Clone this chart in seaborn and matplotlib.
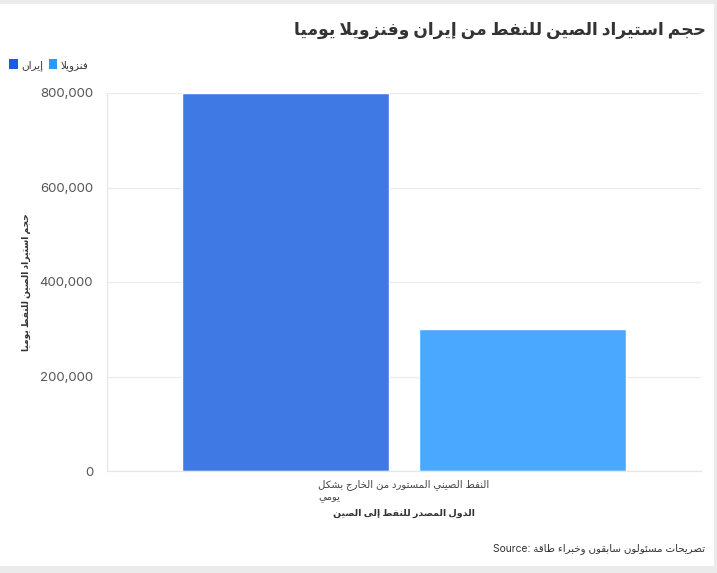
import pandas as pd
import matplotlib
matplotlib.use("Agg")
import matplotlib.pyplot as plt
import seaborn as sns
from matplotlib.patches import Patch, Rectangle

# ---- data ----
countries = ["إيران", "فنزويلا"]
volumes = [800000, 300000]
category = "النفط الصيني المستورد من الخارج بشكل يومي"
colors = ["#3f79e4", "#4aa8ff"]
legend_colors = ["#1d5be0", "#2b9af7"]

title = "حجم استيراد الصين للنفط من إيران وفنزويلا يوميا"
xlabel = "الدول المصدر للنفط إلى الصين"
ylabel = "حجم استيراد الصين للنفط يوميا"
source = "تصريحات مسئولون سابقون وخبراء طاقة"


# matplotlib has no Arabic shaping, so build presentation forms by hand
LETTERS = "ءآأؤإئابةتثجحخدذرزسشصضطظعغفقكلمنهوىي"
DUAL = set("ئبتثجحخسشصضطظعغفقكلمنهي")
FORMS = {}
code = 0xFE80
for ch in LETTERS:
    n = 1 if ch == "ء" else (4 if ch in DUAL else 2)
    FORMS[ch] = [chr(code + k) for k in range(n)]
    code += n
LAM_ALEF = {"آ": 0xFEF5, "أ": 0xFEF7, "إ": 0xFEF9, "ا": 0xFEFB}


def shape_line(text):
    out = []
    i = 0
    while i < len(text):
        ch = text[i]
        prev = text[i - 1] if i > 0 else ""
        nxt = text[i + 1] if i + 1 < len(text) else ""
        join_prev = prev in DUAL
        if ch == "ل" and nxt in LAM_ALEF:
            out.append(chr(LAM_ALEF[nxt] + (1 if join_prev else 0)))
            i += 2
            continue
        if ch in FORMS:
            f = FORMS[ch]
            if len(f) == 1:
                out.append(f[0])
            elif len(f) == 2:
                out.append(f[1] if join_prev else f[0])
            else:
                join_next = nxt in FORMS and nxt != "ء"
                if join_prev and join_next:
                    out.append(f[3])
                elif join_prev:
                    out.append(f[1])
                elif join_next:
                    out.append(f[2])
                else:
                    out.append(f[0])
        else:
            out.append(ch)
        i += 1
    return "".join(out)[::-1]


def ar(text):
    return "\n".join(shape_line(line) for line in text.split("\n"))


cat_label = ar("النفط الصيني المستورد من الخارج بشكل\nيومي")
df = pd.DataFrame({
    "category": [cat_label] * len(countries),
    "country": [ar(c) for c in countries],
    "volume": volumes,
})

sns.set_style("white")
plt.rcParams["font.family"] = ["Inter", "DejaVu Sans"]

fig = plt.figure(figsize=(7.17, 5.73), dpi=100)
fig.patch.set_facecolor("#ebebeb")
fig.patches.append(Rectangle((0, 7 / 573), 714 / 717, 562 / 573,
                             transform=fig.transFigure, facecolor="white",
                             edgecolor="none", zorder=-10))

ax = fig.add_axes([107 / 717, 102 / 573, 594 / 717, 378 / 573])
ax.set_facecolor("white")
sns.barplot(data=df, x="category", y="volume", hue="country",
            palette=colors, gap=0.13, saturation=1, legend=False, ax=ax)

ax.set_ylim(0, 800000)
ax.set_xlim(-0.5, 0.5)
ax.set_yticks([0, 200000, 400000, 600000, 800000])
ax.yaxis.set_major_formatter(matplotlib.ticker.FuncFormatter(lambda v, p: f"{int(v):,}"))
ax.grid(axis="y", color="#ebebeb", linewidth=0.9)
ax.set_axisbelow(True)
for s in ["top", "right"]:
    ax.spines[s].set_visible(False)
for s in ["left", "bottom"]:
    ax.spines[s].set_color("#e6e6e6")
    ax.spines[s].set_linewidth(0.9)
ax.tick_params(axis="y", length=7, color="#e6e6e6", labelsize=9.5,
               labelcolor="#555555", pad=3)
ax.tick_params(axis="x", length=5, color="#e6e6e6", labelsize=7.3,
               labelcolor="#444444", pad=0.5)
for lab in ax.get_xticklabels():
    lab.set_multialignment("left")
    lab.set_linespacing(1.15)

ax.set_xlabel(ar(xlabel), fontsize=6.8, fontweight="bold", color="#333333", labelpad=5)
ax.set_ylabel(ar(ylabel), fontsize=6.6, fontweight="bold", color="#333333", labelpad=6)

fig.text(706 / 717, 1 - 30 / 573, ar(title), ha="right", va="center",
         fontsize=12.3, fontweight="bold", color="#333333")
fig.text(705 / 717, 1 - 549 / 573, "Source: " + ar(source), ha="right",
         va="center", fontsize=7.4, color="#333333")

handles = [Patch(facecolor=c, edgecolor="none") for c in legend_colors]
fig.legend(handles, [ar(c) for c in countries], loc="upper left",
           bbox_to_anchor=(0 / 717, 1 - 50 / 573), ncol=2, frameon=False,
           fontsize=7.5, handlelength=0.8, handleheight=1.1,
           handletextpad=0.3, columnspacing=0.6, labelcolor="#333333")

fig.savefig("out.png", dpi=100)
